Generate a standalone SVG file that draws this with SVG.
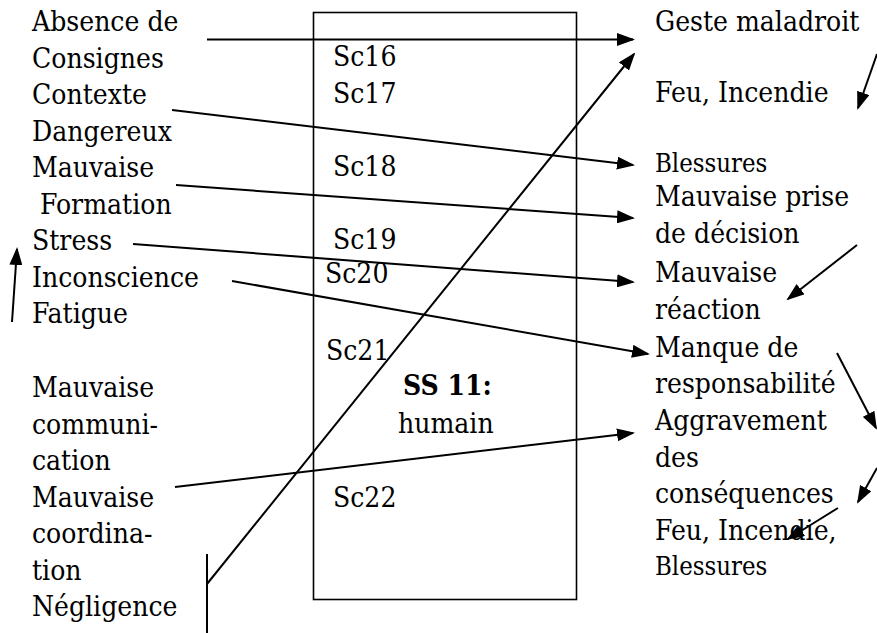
<svg xmlns="http://www.w3.org/2000/svg" width="877" height="633" viewBox="0 0 877 633">
  <style>
    text { font-family: 'DejaVu Serif Condensed', 'DejaVu Serif', 'Liberation Serif', serif; font-stretch: condensed; font-size: 28px; fill: #000; }
    .small { font-size: 25.5px; }
    .bold { font-weight: bold; }
    .conn { stroke: #000; stroke-width: 2; fill: none; }
    .arrow { marker-end: url(#head); }
  </style>
  <defs>
    <marker id="head" markerUnits="userSpaceOnUse" markerWidth="18" markerHeight="13" refX="16" refY="6.5" orient="auto">
      <path d="M0,0 L18,6.5 L0,13 z" fill="#000"/>
    </marker>
  </defs>
  <rect width="877" height="633" fill="#fff"/>

  <!-- central subsystem box -->
  <g id="ss11">
    <rect x="313.5" y="12.5" width="263" height="587" fill="none" stroke="#000" stroke-width="1.6"/>
    <text x="333" y="66">Sc16</text>
    <text x="333" y="103">Sc17</text>
    <text x="333" y="176">Sc18</text>
    <text x="333" y="249">Sc19</text>
    <text x="325" y="283">Sc20</text>
    <text x="326" y="360">Sc21</text>
    <text x="333" y="507">Sc22</text>
    <text x="403" y="395" class="bold">SS 11:</text>
    <text x="398" y="433">humain</text>
  </g>

  <!-- causes (left column) -->
  <g id="causes">
    <text x="32" y="31">Absence de</text>
    <text x="32" y="67.5">Consignes</text>
    <text x="32" y="104">Contexte</text>
    <text x="32" y="140.5">Dangereux</text>
    <text x="32" y="177">Mauvaise</text>
    <text x="40" y="213.5">Formation</text>
    <text x="32" y="250">Stress</text>
    <text x="32" y="286.5">Inconscience</text>
    <text x="32" y="323">Fatigue</text>
    <text x="32" y="397">Mauvaise</text>
    <text x="32" y="433.5">communi-</text>
    <text x="32" y="470">cation</text>
    <text x="32" y="506.5">Mauvaise</text>
    <text x="32" y="543">coordina-</text>
    <text x="32" y="579.5">tion</text>
    <text x="32" y="616">Négligence</text>
  </g>

  <!-- consequences (right column) -->
  <g id="consequences">
    <text x="655" y="31">Geste maladroit</text>
    <text x="655" y="102">Feu, Incendie</text>
    <text x="655" y="172" class="small">Blessures</text>
    <text x="655" y="206">Mauvaise prise</text>
    <text x="655" y="243">de décision</text>
    <text x="655" y="282">Mauvaise</text>
    <text x="655" y="319">réaction</text>
    <text x="655" y="357">Manque de</text>
    <text x="655" y="393">responsabilité</text>
    <text x="655" y="430">Aggravement</text>
    <text x="655" y="467">des</text>
    <text x="655" y="503">conséquences</text>
    <text x="655" y="540">Feu, Incendie,</text>
    <text x="655" y="575" class="small">Blessures</text>
  </g>

  <!-- connectors -->
  <g id="connectors">
    <line class="conn arrow" x1="207" y1="39.5" x2="633" y2="39.5"/>
    <line class="conn arrow" x1="172" y1="110" x2="633" y2="165"/>
    <line class="conn arrow" x1="176" y1="185" x2="633" y2="218"/>
    <line class="conn arrow" x1="133" y1="244" x2="633" y2="282"/>
    <line class="conn arrow" x1="232" y1="281" x2="648" y2="354"/>
    <line class="conn arrow" x1="175" y1="487" x2="633" y2="433"/>
    <!-- négligence bracket -->
    <line class="conn" x1="207" y1="554" x2="207" y2="633"/>
    <line class="conn arrow" x1="207" y1="584" x2="634" y2="54"/>
    <!-- right margin arrows -->
    <line class="conn arrow" x1="877" y1="54" x2="858" y2="108"/>
    <line class="conn arrow" x1="857" y1="245" x2="788" y2="299"/>
    <line class="conn arrow" x1="837" y1="353" x2="876" y2="428"/>
    <line class="conn arrow" x1="877" y1="468" x2="858" y2="502"/>
    <line class="conn arrow" x1="838" y1="508" x2="788" y2="539"/>
    <!-- left margin arrow -->
    <line class="conn arrow" x1="12" y1="322" x2="17" y2="249"/>
  </g>
</svg>
